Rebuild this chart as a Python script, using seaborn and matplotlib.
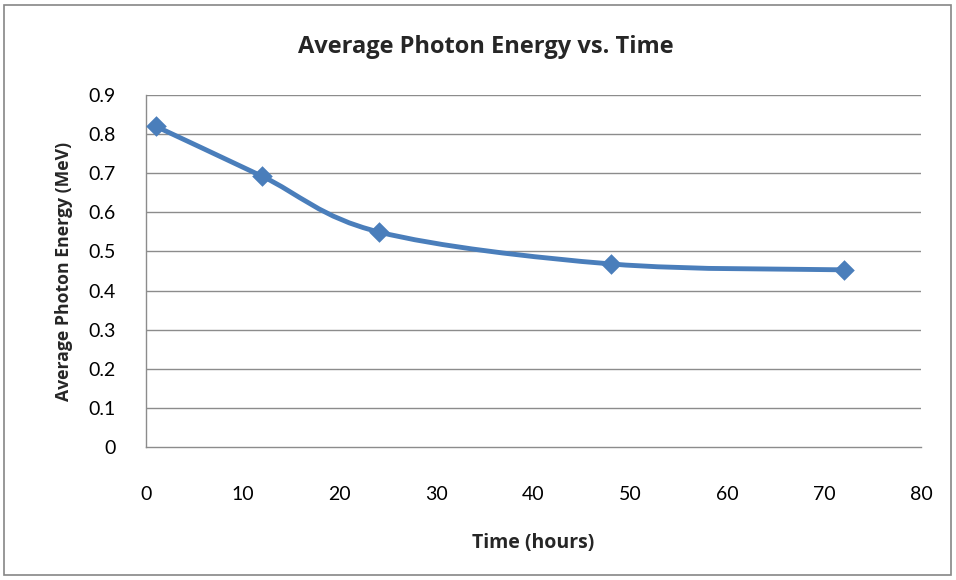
import numpy as np
import seaborn as sns
import matplotlib.pyplot as plt
from matplotlib.path import Path
from matplotlib.patches import PathPatch, Rectangle

# data
hours = [1, 12, 24, 48, 72]
energy_mev = [0.82, 0.692, 0.55, 0.468, 0.453]
x_ticks = [0, 10, 20, 30, 40, 50, 60, 70, 80]
y_ticks = [0, 0.1, 0.2, 0.3, 0.4, 0.5, 0.6, 0.7, 0.8, 0.9]

blue = "#4a7ebb"
grid_gray = "#8c8c8c"
bold_font = ["Open Sans", "DejaVu Sans"]

sns.set_style("white")
plt.rcParams["font.family"] = ["Lato", "DejaVu Sans"]

fig = plt.figure(figsize=(9.56, 5.8), dpi=100)
ax = fig.add_axes([146 / 956, 1 - 447 / 580, 775 / 956, 352 / 580])

# smoothed line (Excel-style bezier through the points)
pts = np.column_stack([hours, energy_mev]).astype(float)
verts = [pts[0]]
codes = [Path.MOVETO]
n = len(pts)
for i in range(n - 1):
    p_prev = pts[max(i - 1, 0)]
    p0, p1 = pts[i], pts[i + 1]
    p_next = pts[min(i + 2, n - 1)]
    c1 = p0 + (p1 - p_prev) / 6
    c2 = p1 - (p_next - p0) / 6
    verts += [c1, c2, p1]
    codes += [Path.CURVE4] * 3
ax.add_patch(PathPatch(Path(verts, codes), facecolor="none", edgecolor=blue,
                       lw=3.5, capstyle="round", joinstyle="round", zorder=3))

sns.scatterplot(x=hours, y=energy_mev, marker="D", s=110, color=blue,
                edgecolor=blue, linewidth=0, ax=ax, zorder=4)

ax.set_xlim(0, 80)
ax.set_ylim(0, 0.9)
ax.set_xticks(x_ticks)
ax.set_yticks(y_ticks)
ax.set_xticklabels([str(t) for t in x_ticks])
ax.set_yticklabels(["0"] + [f"{t:g}" for t in y_ticks[1:]])
ax.tick_params(axis="both", length=0, labelsize=14, colors="black")
ax.tick_params(axis="x", pad=28)
ax.tick_params(axis="y", pad=22)

for y in y_ticks[1:]:
    ax.axhline(y, color=grid_gray, lw=1, zorder=1)
for side in ["top", "right"]:
    ax.spines[side].set_visible(False)
for side in ["left", "bottom"]:
    ax.spines[side].set_color(grid_gray)
    ax.spines[side].set_linewidth(1)

ax.set_xlabel("Time (hours)", fontsize=14, fontweight="bold", family=bold_font, labelpad=22)
ax.set_ylabel("Average Photon Energy (MeV)", fontsize=12.7, fontweight="bold",
              family=bold_font, labelpad=11)
fig.text(0.5 + 8 / 956, 1 - 47 / 580, "Average Photon Energy vs. Time", ha="center",
         va="center", fontsize=17, fontweight="bold", family=bold_font)

fig.patches.append(Rectangle((4 / 956, 5 / 580), 947 / 956, 570 / 580,
                             transform=fig.transFigure, fill=False,
                             edgecolor="#868686", lw=1.2))

fig.savefig("out.png", dpi=100)
